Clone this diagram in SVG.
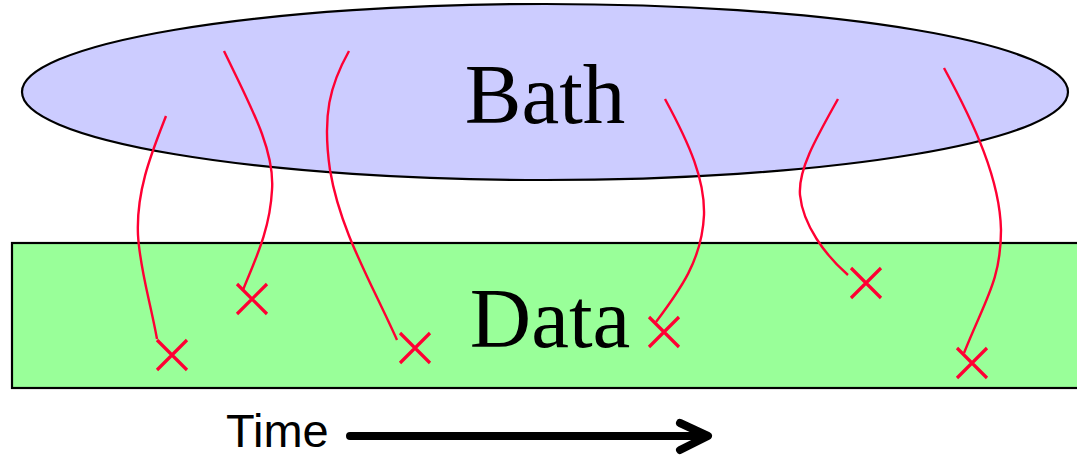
<svg xmlns="http://www.w3.org/2000/svg" width="1077" height="456" viewBox="0 0 1077 456">
<style>
.big{font-family:"Liberation Serif","Times New Roman",serif;font-size:85px;fill:#000;text-anchor:middle}
.lbl{font-family:"Liberation Sans",Arial,sans-serif;font-size:47px;fill:#000}
.curve{fill:none;stroke:#ff0033;stroke-width:2.4}
.cross{fill:none;stroke:#ff0033;stroke-width:3.2}
</style>
<defs>
<path id="x" d="M-15,-15 L15,15 M-15,15 L15,-15"/>
</defs>
<rect width="1077" height="456" fill="#fff"/>
<g id="bath">
<ellipse cx="545" cy="92" rx="523" ry="88" fill="#ccccff" stroke="#000" stroke-width="2.2"/>
<text class="big" x="545" y="123">Bath</text>
</g>
<g id="data">
<rect x="12" y="243" width="1070" height="145" fill="#99ff99" stroke="#000" stroke-width="2.2"/>
<text class="big" x="550" y="347">Data</text>
</g>
<g id="connectors">
<path class="curve" d="M166,116 C152,152 136,190 138,235 C140,270 150,300 157,339"/>
<path class="curve" d="M224,51 C250,105 275,150 272,190 C270,230 255,260 243,290"/>
<path class="curve" d="M349,51 C330,85 322,115 330,170 C340,230 370,280 397,340"/>
<path class="curve" d="M665,99 C690,145 705,180 704,215 C702,260 680,290 656,322"/>
<path class="curve" d="M838,99 C815,140 798,170 800,195 C803,225 825,255 848,275"/>
<path class="curve" d="M944,68 C975,125 1000,180 1001,230 C1001,280 985,300 964,353"/>
</g>
<g id="events">
<use href="#x" class="cross" x="172" y="355"/>
<use href="#x" class="cross" x="252" y="299"/>
<use href="#x" class="cross" x="415" y="348"/>
<use href="#x" class="cross" x="664" y="332"/>
<use href="#x" class="cross" x="866" y="283"/>
<use href="#x" class="cross" x="972" y="363"/>
</g>
<g id="time">
<text class="lbl" x="226" y="447">Time</text>
<path d="M350,436 L706,436 M680,423 L708,436 L680,450" fill="none" stroke="#000" stroke-width="8" stroke-linecap="round" stroke-linejoin="round"/>
</g>
</svg>
